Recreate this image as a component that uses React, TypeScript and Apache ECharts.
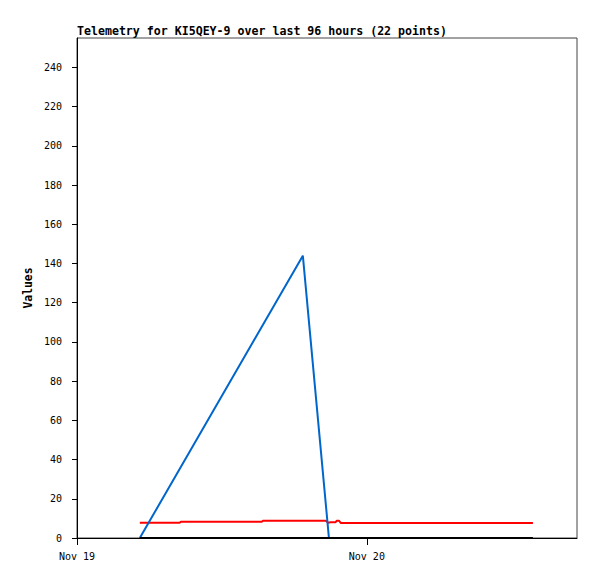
import React, { useEffect, useRef } from "react";
import * as echarts from "echarts";

const TITLE = "Telemetry for KI5QEY-9 over last 96 hours (22 points)";
const Y_NAME = "Values";
const X_TICK_LABELS = ["Nov 19", "Nov 20"];
const X_TICK_HOURS = [0, 24];
// hours since Nov 19 00:00
const X_MAX_HOURS = 41.4;

const BLUE_TIMES = [5.2, 18.7, 20.86];
const BLUE_VALUES = [0, 144, 0];

const RED_TIMES = [5.2, 8.5, 8.6, 15.3, 15.4, 20.6, 20.8, 21.0, 21.4, 21.5, 21.7, 21.85, 37.75];
const RED_VALUES = [7.8, 7.8, 8.3, 8.3, 8.8, 8.8, 7.8, 8.0, 8.0, 8.8, 8.8, 7.6, 7.6];

const BLACK_TIMES = [5.2, 37.75];
const BLACK_VALUES = [0, 0];

const zip = (xs: number[], ys: number[]) => xs.map((x, i) => [x, ys[i]]);

const FONT = "DejaVu Sans Mono";

export default function App() {
  const ref = useRef<HTMLDivElement>(null);
  useEffect(() => {
    document.body.style.margin = "0";
    const chart = echarts.init(ref.current!, null, { renderer: "svg" });
    chart.setOption({
      animation: false,
      backgroundColor: "#ffffff",
      title: {
        text: TITLE,
        left: 77,
        top: 25,
        padding: 0,
        textStyle: { fontFamily: FONT, fontSize: 11.6, fontWeight: "bold", color: "#000" },
      },
      grid: {
        left: 77,
        top: 38,
        width: 500,
        height: 500,
        show: true,
        borderColor: "#444",
        borderWidth: 1,
        backgroundColor: "transparent",
      },
      xAxis: {
        type: "value",
        min: 0,
        max: X_MAX_HOURS,
        interval: 24,
        axisLine: { show: true, onZero: false, lineStyle: { color: "#000", width: 1 } },
        axisTick: {
          show: true,
          inside: false,
          length: 7,
          customValues: X_TICK_HOURS,
          lineStyle: { color: "#000" },
        },
        splitLine: { show: false },
        axisLabel: {
          margin: 13,
          fontFamily: FONT,
          fontSize: 10,
          color: "#000",
          customValues: X_TICK_HOURS,
          formatter: (v: number) => X_TICK_LABELS[X_TICK_HOURS.indexOf(v)] ?? "",
        },
      },
      yAxis: {
        type: "value",
        min: 0,
        max: 255,
        interval: 20,
        name: Y_NAME,
        nameLocation: "middle",
        nameGap: 39,
        nameTextStyle: { fontFamily: FONT, fontSize: 11.4, fontWeight: "bold", color: "#000" },
        axisLine: { show: true, lineStyle: { color: "#000", width: 1 } },
        axisTick: { show: true, inside: false, length: 5, lineStyle: { color: "#000" } },
        splitLine: { show: false },
        axisLabel: {
          margin: 15,
          fontFamily: FONT,
          fontSize: 10,
          color: "#000",
          showMaxLabel: false,
          formatter: (v: number) => (v % 20 === 0 ? String(v) : ""),
        },
      },
      series: [
        {
          type: "line",
          data: zip(RED_TIMES, RED_VALUES),
          showSymbol: false,
          clip: false,
          lineStyle: { color: "#ff0000", width: 2 },
          z: 2,
        },
        {
          type: "line",
          data: zip(BLUE_TIMES, BLUE_VALUES),
          showSymbol: false,
          clip: false,
          lineStyle: { color: "#0066cc", width: 2 },
          z: 3,
        },
        {
          type: "line",
          data: zip(BLACK_TIMES, BLACK_VALUES),
          showSymbol: false,
          clip: false,
          lineStyle: { color: "#000000", width: 2 },
          z: 4,
        },
      ],
    });
    return () => chart.dispose();
  }, []);
  return <div ref={ref} style={{ width: 597, height: 579 }} />;
}
